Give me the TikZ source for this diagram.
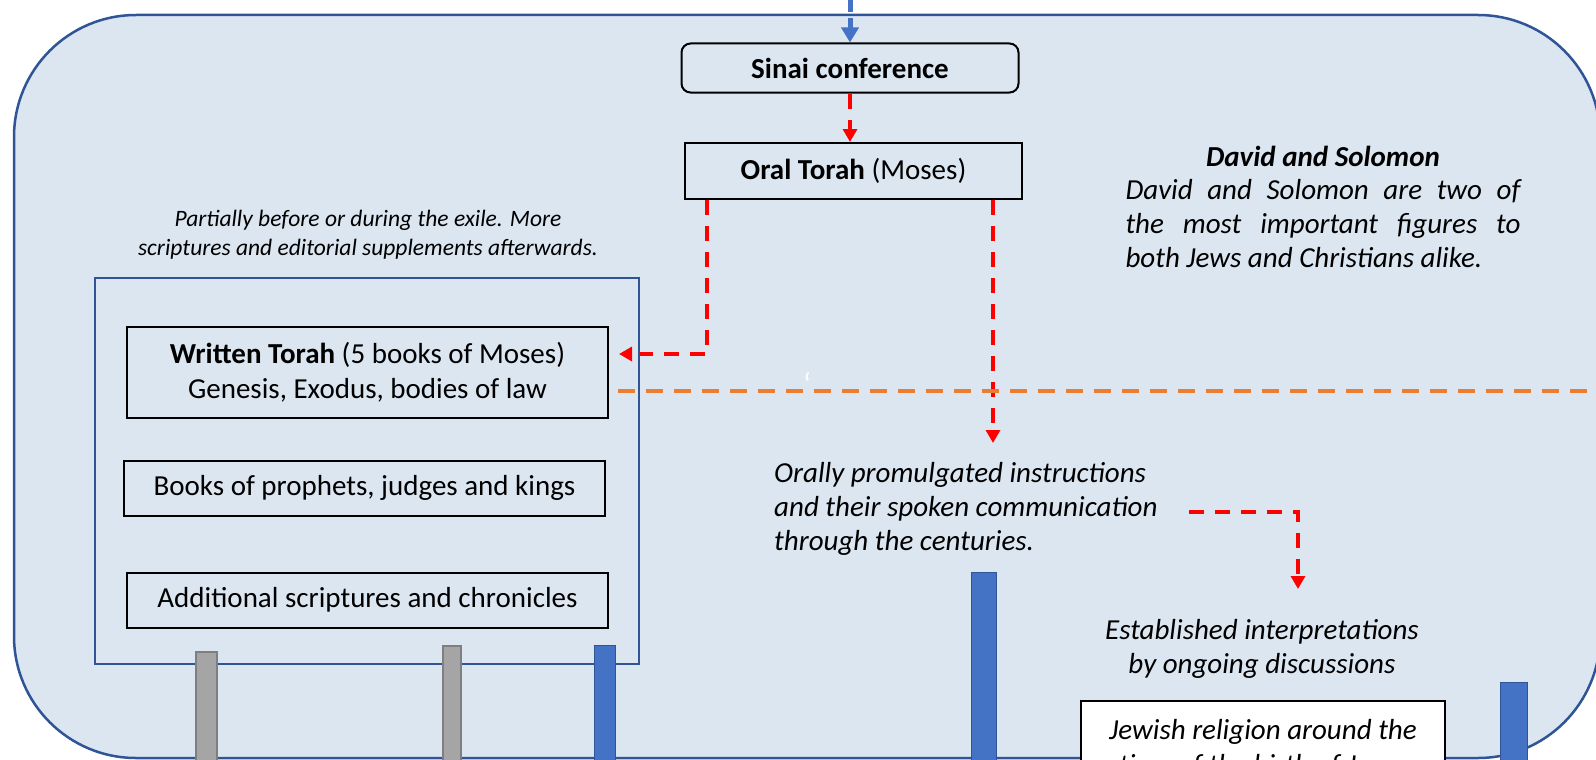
\documentclass[tikz,border=0pt]{standalone}
\usepackage{fontspec}
\setmainfont{Carlito}
\usetikzlibrary{arrows.meta}
\definecolor{bgfill}{HTML}{DCE6F1}
\definecolor{framecol}{HTML}{2F5597}
\definecolor{accblue}{HTML}{4472C4}
\definecolor{accorange}{HTML}{ED7D31}
\definecolor{barsgray}{HTML}{A5A5A5}
\definecolor{barsgrayline}{HTML}{7F7F7F}
\begin{document}
\begin{tikzpicture}[x=1pt,y=-1pt,
  txt/.style={font=\fontsize{29}{35}\selectfont},
  smallit/.style={font=\fontsize{23.5}{28.7}\selectfont\itshape, align=center, inner sep=0pt},
  bigit/.style={font=\fontsize{29}{34}\selectfont\itshape, inner sep=0pt},
  boxnode/.style={draw=black, line width=2pt, txt, inner sep=0pt, align=center},
  redarrow/.style={draw=red, line width=3.3pt, dash pattern=on 15pt off 11pt, -{Triangle[length=13pt,width=14pt]}},
  bluearrow/.style={draw=accblue, line width=5pt, dash pattern=on 16pt off 6pt, -{Triangle[length=15pt,width=17pt]}},
  orangedash/.style={draw=accorange, line width=3.5pt, dash pattern=on 17pt off 11pt},
  graybar/.style={fill=barsgray, draw=barsgrayline, line width=2pt},
  bluebar/.style={fill=accblue, draw=framecol, line width=1pt}
]
\useasboundingbox (0,0) rectangle (1596,760);
\clip (0,0) rectangle (1596,760);
\fill[white] (0,0) rectangle (1596,760);

% background rounded panel
\draw[fill=bgfill, draw=framecol, line width=2.5pt, rounded corners=122pt] (14,15) rectangle (1600,758);

% boxes
\node[boxnode, rounded corners=9pt, minimum width=337pt, minimum height=49pt, font=\fontsize{29}{35}\selectfont\bfseries] (sinai) at (850,68) {Sinai conference};
\node[boxnode, minimum width=337pt, minimum height=56pt] (oral) at (853.5,171) {\textbf{Oral Torah} (Moses)};
\node[boxnode, minimum width=481pt, minimum height=91pt] (written) at (367.5,372) {\textbf{Written Torah} (5 books of Moses)\\Genesis, Exodus, bodies of law};
\node[boxnode, minimum width=481pt, minimum height=55pt] (prophets) at (364.5,488) {Books of prophets, judges and kings};
\node[boxnode, minimum width=481pt, minimum height=55pt] (additional) at (367.5,600) {Additional scriptures and chronicles};

% texts
\node[smallit] (partial) at (368,235) {Partially before or during the exile. More\\scriptures and editorial supplements afterwards.};
\node[bigit, align=center] (davidsol) at (1323,207) {\textbf{David and Solomon}\\[-1pt]
  \makebox[395pt][s]{David and Solomon are two of}\\
  \makebox[395pt][s]{the most important figures to}\\
  \makebox[395pt][l]{both Jews and Christians alike.}};
\node[bigit, align=left, anchor=west] (orally) at (774,509) {Orally promulgated instructions\\and their spoken communication\\through the centuries.};
\node[bigit, align=center] (established) at (1262,649) {Established interpretations\\by ongoing discussions};
\node[text=white, font=\fontsize{32}{35}\selectfont, inner sep=0pt] (tick) at (807,384) {\symbol{96}};

% connectors
\coordinate (topin) at (850,-4);
\draw[bluearrow] (topin) -- (sinai.north);
\draw[redarrow] (sinai.south) -- (sinai.south |- oral.north);
\coordinate (cornerA) at (707,354);
\draw[redarrow] (cornerA |- oral.south) -- (cornerA) -- ([xshift=10pt]written.east |- cornerA);
\coordinate (tipB) at (993,443);
\draw[redarrow] (tipB |- oral.south) -- (tipB);
\coordinate (startC) at (1189,512);
\coordinate (cornerC) at (1298,512);
\coordinate (tipC) at (1298,589);
\draw[redarrow] (startC) -- (cornerC) -- (tipC);
\coordinate (orangeL) at (618,391);
\coordinate (orangeR) at (1600,391);
\draw[orangedash] (orangeL) -- (orangeR);

% group frame
\node[draw=framecol, line width=2pt, minimum width=544pt, minimum height=386pt, inner sep=0pt] (group) at (367,471) {};

% bars
\filldraw[graybar] (196,652) rectangle (217,770);
\filldraw[graybar] (443,646) rectangle (461,770);
\filldraw[bluebar] (594,645) rectangle (615,770);
\filldraw[bluebar] (971,572) rectangle (996,770);
\filldraw[bluebar] (1500,682) rectangle (1527,770);

% bottom box
\node[boxnode, fill=white, font=\fontsize{29}{35}\selectfont\itshape, anchor=north, minimum width=364pt, inner ysep=18pt] (jewish) at (1263,700) {Jewish religion around the\\time of the birth of Jesus};
\end{tikzpicture}
\end{document}
